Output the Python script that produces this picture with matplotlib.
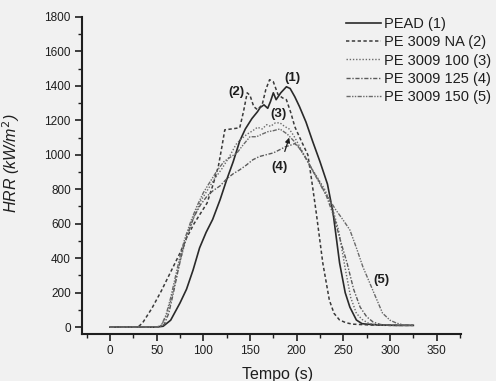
import numpy as np
import matplotlib
matplotlib.use('Agg')
import matplotlib.pyplot as plt
import matplotlib.ticker as ticker

plt.rcParams['font.family'] = ['Liberation Sans', 'DejaVu Sans']

# ---- data ----
t_pead = [0, 50, 57, 65, 75, 82, 89, 96, 103, 110, 118, 125, 132, 139, 145, 152, 158, 161,
          165, 169, 172, 175, 178, 183, 189, 193, 198, 203, 210, 217, 225, 233, 239, 246,
          252, 257, 264, 270, 275, 290, 310, 325]
hrr_pead = [0, 0, 5, 40, 140, 220, 331, 460, 550, 625, 740, 855, 960, 1080, 1150, 1210, 1250, 1275,
            1290, 1270, 1310, 1360, 1320, 1360, 1395, 1385, 1337, 1280, 1190, 1080, 960, 830, 663, 372,
            200, 116, 41, 20, 17, 12, 10, 10]

t_na = [0, 30, 35, 45, 55, 65, 75, 82, 90, 97, 104, 110, 116, 120, 123, 130, 139, 143, 147,
        150, 154, 158, 163, 167, 171, 175, 180, 185, 189, 194, 198, 205, 212, 216, 221, 228,
        235, 240, 246, 253, 260, 280, 300, 325]
hrr_na = [0, 0, 25, 110, 210, 320, 430, 517, 600, 660, 720, 820, 930, 1050, 1145, 1150, 1157, 1250, 1360,
          1345, 1280, 1262, 1290, 1380, 1436, 1424, 1350, 1330, 1320, 1240, 1163, 1080, 1000, 855, 663, 372,
          157, 80, 41, 25, 17, 12, 10, 10]

t_100 = [0, 50, 55, 60, 65, 70, 75, 82, 90, 97, 105, 112, 120, 128, 135, 140, 147, 153, 158,
         163, 168, 172, 177, 182, 187, 192, 197, 202, 208, 215, 222, 230, 238, 245, 252, 258,
         264, 270, 276, 282, 290, 300, 325]
hrr_100 = [0, 0, 10, 60, 150, 260, 380, 520, 640, 730, 800, 860, 920, 990, 1060, 1090, 1120, 1140, 1160,
           1150, 1175, 1165, 1185, 1186, 1165, 1150, 1110, 1060, 1000, 930, 870, 800, 700, 560, 340, 170,
           80, 45, 25, 15, 12, 10, 10]

t_125 = [0, 52, 58, 63, 68, 73, 78, 83, 90, 97, 104, 110, 118, 125, 132, 139, 146, 153, 160,
         167, 175, 182, 188, 193, 198, 203, 210, 218, 225, 232, 240, 247, 254, 261, 268, 275,
         282, 290, 300, 325]
hrr_125 = [0, 0, 15, 80, 200, 330, 450, 540, 640, 710, 760, 790, 820, 860, 890, 913, 940, 971, 990,
           1000, 1011, 1030, 1047, 1055, 1065, 1040, 980, 900, 837, 760, 640, 500, 372, 220, 116, 60,
           29, 15, 10, 10]

t_150 = [0, 50, 55, 60, 65, 70, 75, 80, 87, 93, 100, 108, 115, 122, 130, 136, 143, 150, 157,
         163, 169, 175, 182, 190, 197, 204, 212, 220, 228, 235, 242, 250, 257, 264, 271, 278,
         285, 292, 300, 307, 315, 325]
hrr_150 = [0, 0, 10, 70, 170, 290, 410, 510, 620, 700, 780, 850, 910, 960, 990, 1011, 1060, 1105, 1105,
           1120, 1134, 1140, 1150, 1120, 1080, 1030, 960, 880, 800, 740, 680, 620, 564, 460, 349, 260,
           170, 81, 40, 23, 12, 10]

labels = ['PEAD (1)', 'PE 3009 NA (2)', 'PE 3009 100 (3)', 'PE 3009 125 (4)', 'PE 3009 150 (5)']

# ---- figure ----
BG = '#f1f1f1'
INK = '#1e1e1e'
fig = plt.figure(figsize=(4.96, 3.81), dpi=100, facecolor=BG)
ax = fig.add_axes([0.1653, 0.1234, 0.764, 0.832], facecolor=BG)

ax.plot(t_pead, hrr_pead, color='#2a2a2a', lw=1.2, ls='-', label=labels[0])
ax.plot(t_na, hrr_na, color='#3a3a3a', lw=1.1, ls=(0, (2.2, 1.6)), label=labels[1])
ax.plot(t_100, hrr_100, color='#6a6a6a', lw=1.0, ls=(0, (1, 1.3)), label=labels[2])
ax.plot(t_125, hrr_125, color='#5a5a5a', lw=1.0, ls=(0, (3, 1.2, 1, 1.2)), label=labels[3])
ax.plot(t_150, hrr_150, color='#6a6a6a', lw=1.0, ls=(0, (3, 1, 1, 1, 1, 1)), label=labels[4])

# curve labels
ann = dict(fontsize=9.5, fontweight='bold', color=INK, ha='center', va='center')
ax.text(196, 1448, '(1)', **ann)
ax.text(136, 1366, '(2)', **ann)
ax.text(181, 1238, '(3)', **ann)
ax.text(291, 273, '(5)', **ann)
ax.annotate('(4)', xy=(192, 1100), xytext=(182, 930),
            arrowprops=dict(arrowstyle='-|>', color=INK, lw=0.9, mutation_scale=7,
                            shrinkA=5, shrinkB=0), **ann)

# axes
ax.set_xlim(-30, 376)
ax.set_ylim(-40, 1800)
ax.xaxis.set_minor_locator(ticker.MultipleLocator(25))
ax.yaxis.set_major_locator(ticker.MultipleLocator(200))
ax.yaxis.set_minor_locator(ticker.MultipleLocator(100))
ax.set_xticks([0, 50, 100, 150, 200, 250, 300, 350])
ax.tick_params(which='major', length=5, width=1.2, labelsize=8.5, colors=INK, pad=3)
ax.tick_params(which='minor', length=3, width=1.0, colors=INK)

for s in ['top', 'right']:
    ax.spines[s].set_visible(False)
for s in ['left', 'bottom']:
    ax.spines[s].set_linewidth(1.5)
    ax.spines[s].set_color(INK)

ax.set_xlabel('Tempo (s)', fontsize=11.5, color=INK)
ax.xaxis.set_label_coords(0.515, -0.103)
ax.set_ylabel('HRR (kW/m$^2$)', fontsize=11.5, style='italic', color=INK)
ax.yaxis.set_label_coords(-0.158, 0.54)

leg = fig.legend(loc='upper right', bbox_to_anchor=(1.005, 0.975), frameon=False,
                 fontsize=10.5, handlelength=2.4, handletextpad=0.2, labelspacing=0.3,
                 borderpad=0.0, labelcolor=INK)

fig.savefig('out.png', dpi=100, facecolor=BG)
